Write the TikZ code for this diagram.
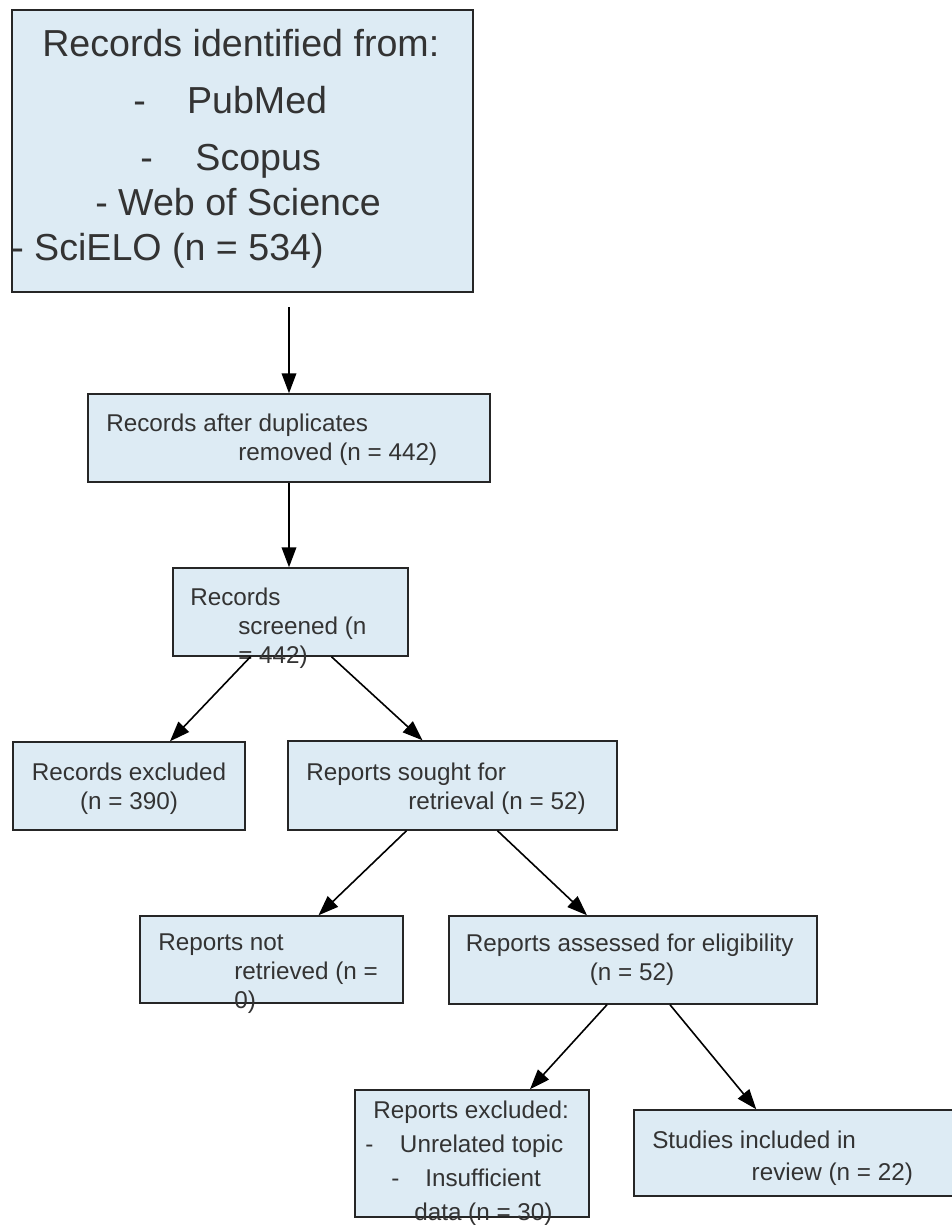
\documentclass[tikz,border=0pt]{standalone}
\usepackage{fontspec}
\setmainfont{Liberation Sans}
\usetikzlibrary{arrows.meta,calc,fit}
\definecolor{boxfill}{RGB}{221,235,244}
\definecolor{inkgray}{RGB}{51,51,51}
\tikzset{
  box/.style={draw=black!85, fill=boxfill, line width=1.1pt, inner sep=0pt},
  txt/.style={inner sep=0pt, anchor=north west, align=left, text=inkgray,
    font=\fontsize{18.2pt}{21.75pt}\selectfont},
  arr/.style={-{Triangle[length=15pt,width=11pt]}, line width=1.2pt},
}
\begin{document}
\begin{tikzpicture}[x=0.75pt,y=-0.75pt]
\useasboundingbox[fill=white] (0,0) rectangle (951,1225);
% boxes
\node[box, line width=2.2pt, fit={(12,10) (473,292)}] (src) {};
\node[box, fit={(88,394) (490,482)}] (dup) {};
\node[box, fit={(173,568) (408,656)}] (scr) {};
\node[box, fit={(13,742) (245,830)}] (exc) {};
\node[box, fit={(288,741) (617,830)}] (ret) {};
\node[box, fit={(140,916) (403,1003)}] (nrt) {};
\node[box, fit={(449,916) (817,1004)}] (elig) {};
\node[box, fit={(355,1090) (589,1217)}] (rex) {};
\node[box, fit={(634,1110) (965,1196)}] (inc) {};
% texts
\node[txt, font=\fontsize{28.2pt}{34pt}\selectfont] (srctxt) at (11,28.6)
  {\hspace*{23.25pt}Records identified from:\\[8.75pt]
   \hspace*{91.5pt}-\hspace{31pt}PubMed\\[8.75pt]
   \hspace*{96.75pt}-\hspace{32pt}Scopus\\
   \hspace*{63pt}- Web of Science\\
   - SciELO (n = 534)};
\node[txt] (duptxt) at (106,414) {Records after duplicates\\\hspace*{99pt}removed (n = 442)};
\node[txt] (scrtxt) at (190,588) {Records\\\hspace*{36pt}screened (n\\\hspace*{36pt}= 442)};
\node[txt, anchor=north, align=center] (exctxt) at (129,763) {Records excluded\\(n = 390)};
\node[txt] (rettxt) at (306,763) {Reports sought for\\\hspace*{76.5pt}retrieval (n = 52)};
\node[txt] (nrttxt) at (158,934) {Reports not\\\hspace*{57pt}retrieved (n =\\\hspace*{57pt}0)};
\node[txt] (eligtxt) at (465.6,934) {Reports assessed for eligibility\\\hspace*{93pt}(n = 52)};
\node[txt, font=\fontsize{18.2pt}{25.5pt}\selectfont] (rextxt) at (365,1101)
  {\hspace*{6pt}Reports excluded:\\
   -\hspace{20pt}Unrelated topic\\
   \hspace*{19.5pt}-\hspace{19.5pt}Insufficient\\
   \hspace*{36.75pt}data (n = 30)};
\node[txt, font=\fontsize{18.2pt}{24pt}\selectfont] (inctxt) at (652,1131) {Studies included in\\\hspace*{74.6pt}review (n = 22)};
% arrows
\coordinate (a1) at (289,307);
\draw[arr] (a1) -- (dup.north);
\draw[arr] (dup.south) -- (dup.south |- scr.north);
\draw[arr] ($(scr.south)+(-40,0)$) -- ($(exc.north)+(41,0)$);
\draw[arr] ($(scr.south)+(41,0)$) -- ($(ret.north)+(-30,0)$);
\draw[arr] ($(ret.south)+(-46,0)$) -- ($(nrt.north)+(47,0)$);
\draw[arr] ($(ret.south)+(45,0)$) -- ($(elig.north)+(-46,0)$);
\draw[arr] ($(elig.south)+(-26,0)$) -- ($(rex.north)+(58,0)$);
\draw[arr] ($(elig.south)+(37,0)$) -- ($(inc.north west)+(123,0)$);
\end{tikzpicture}
\end{document}
